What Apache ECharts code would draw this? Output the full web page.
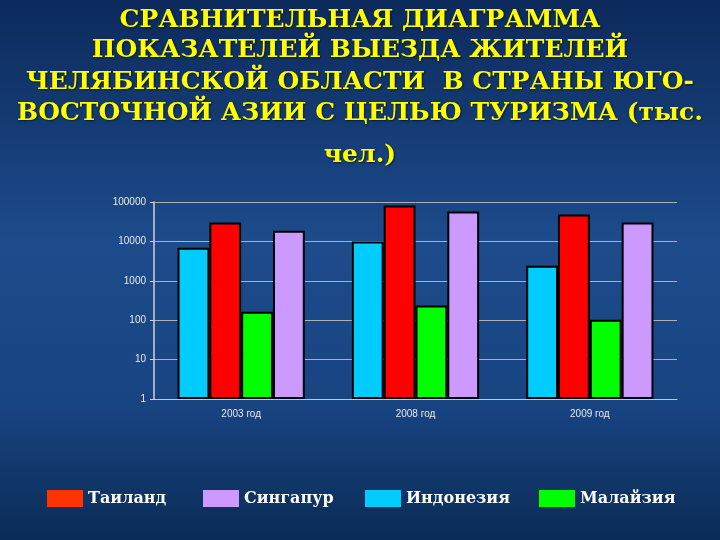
<!DOCTYPE html>
<html><head><meta charset="utf-8">
<script src="https://cdn.jsdelivr.net/npm/echarts@6/dist/echarts.min.js"></script>
<style>html,body{margin:0;padding:0;background:#12366f}#c{width:720px;height:540px}</style>
</head><body><div id="c"></div>
<script>
const categories = ['2003 год', '2008 год', '2009 год'];
const indonesia = [6900, 10000, 2400];
const thailand = [30000, 82000, 48000];
const malaysia = [165, 235, 103];
const singapore = [18700, 57000, 30000];
const legendNames = ['Таиланд', 'Сингапур', 'Индонезия', 'Малайзия'];
const titleLines = ['СРАВНИТЕЛЬНАЯ ДИАГРАММА', 'ПОКАЗАТЕЛЕЙ ВЫЕЗДА ЖИТЕЛЕЙ', 'ЧЕЛЯБИНСКОЙ ОБЛАСТИ  В СТРАНЫ ЮГО-', 'ВОСТОЧНОЙ АЗИИ С ЦЕЛЬЮ ТУРИЗМА (тыс.', 'чел.)'];
const titleCenters = [20, 50, 82, 113, 155];

const chart = echarts.init(document.getElementById('c'));
const barStyle = c => ({ color: c, borderColor: '#000', borderWidth: 2 });
const titleStyle = { color: '#ffff00', fontFamily: 'DejaVu Serif', fontWeight: 'bold', fontSize: 25, lineHeight: 30, textShadowColor: 'rgba(0,0,0,0.6)', textShadowBlur: 2, textShadowOffsetX: 1, textShadowOffsetY: 1 };
const legendText = { color: '#ffffff', fontFamily: 'DejaVu Serif', fontWeight: 'bold', fontSize: 16 };
const legendLefts = [42, 198, 360, 534];
const legendColors = ['#ff3300', '#cc99ff', '#00ccff', '#00ff00'];

chart.setOption({
  backgroundColor: {
    type: 'linear', x: 0, y: 0, x2: 0, y2: 1,
    colorStops: [
      { offset: 0, color: '#0c2a5c' },
      { offset: 0.45, color: '#1d4b8b' },
      { offset: 0.75, color: '#184482' },
      { offset: 1, color: '#0a2b55' }
    ]
  },
  title: titleLines.map((t, i) => ({ text: t, left: 'center', top: titleCenters[i] - 15, padding: 0, textStyle: titleStyle })),
  legend: legendNames.map((n, i) => ({
    data: [{ name: n, icon: 'rect', itemStyle: { color: legendColors[i], borderWidth: 0 } }],
    left: legendLefts[i], top: 485, itemWidth: 36, itemHeight: 17, itemGap: 0,
    textStyle: legendText, selectedMode: false
  })),
  grid: { left: 154, right: 43, top: 202, bottom: 141 },
  xAxis: {
    type: 'category', data: categories,
    axisLine: { lineStyle: { color: '#c8c8c8', width: 1 } },
    axisTick: { show: false },
    axisLabel: { color: '#e8e8e8', fontFamily: 'Liberation Sans', fontSize: 10, margin: 10 }
  },
  yAxis: {
    type: 'log', logBase: 10, min: 1, max: 100000,
    axisLine: { show: true, lineStyle: { color: '#d0d0d0', width: 1.5 } },
    axisTick: { show: true, length: 4, lineStyle: { color: '#d0d0d0' } },
    splitLine: { lineStyle: { color: '#b0b0b0', width: 1 } },
    axisLabel: { color: '#e8e8e8', fontFamily: 'Liberation Sans', fontSize: 10, margin: 8,
      formatter: v => String(Math.round(v)) }
  },
  series: [
    { name: 'Индонезия', type: 'bar', data: indonesia, itemStyle: barStyle('#00ccff'), barGap: '0%', barCategoryGap: '27%' },
    { name: 'Таиланд', type: 'bar', data: thailand, itemStyle: barStyle('#ff0000') },
    { name: 'Малайзия', type: 'bar', data: malaysia, itemStyle: barStyle('#00ff00') },
    { name: 'Сингапур', type: 'bar', data: singapore, itemStyle: barStyle('#cc99ff') }
  ]
});
</script></body></html>
